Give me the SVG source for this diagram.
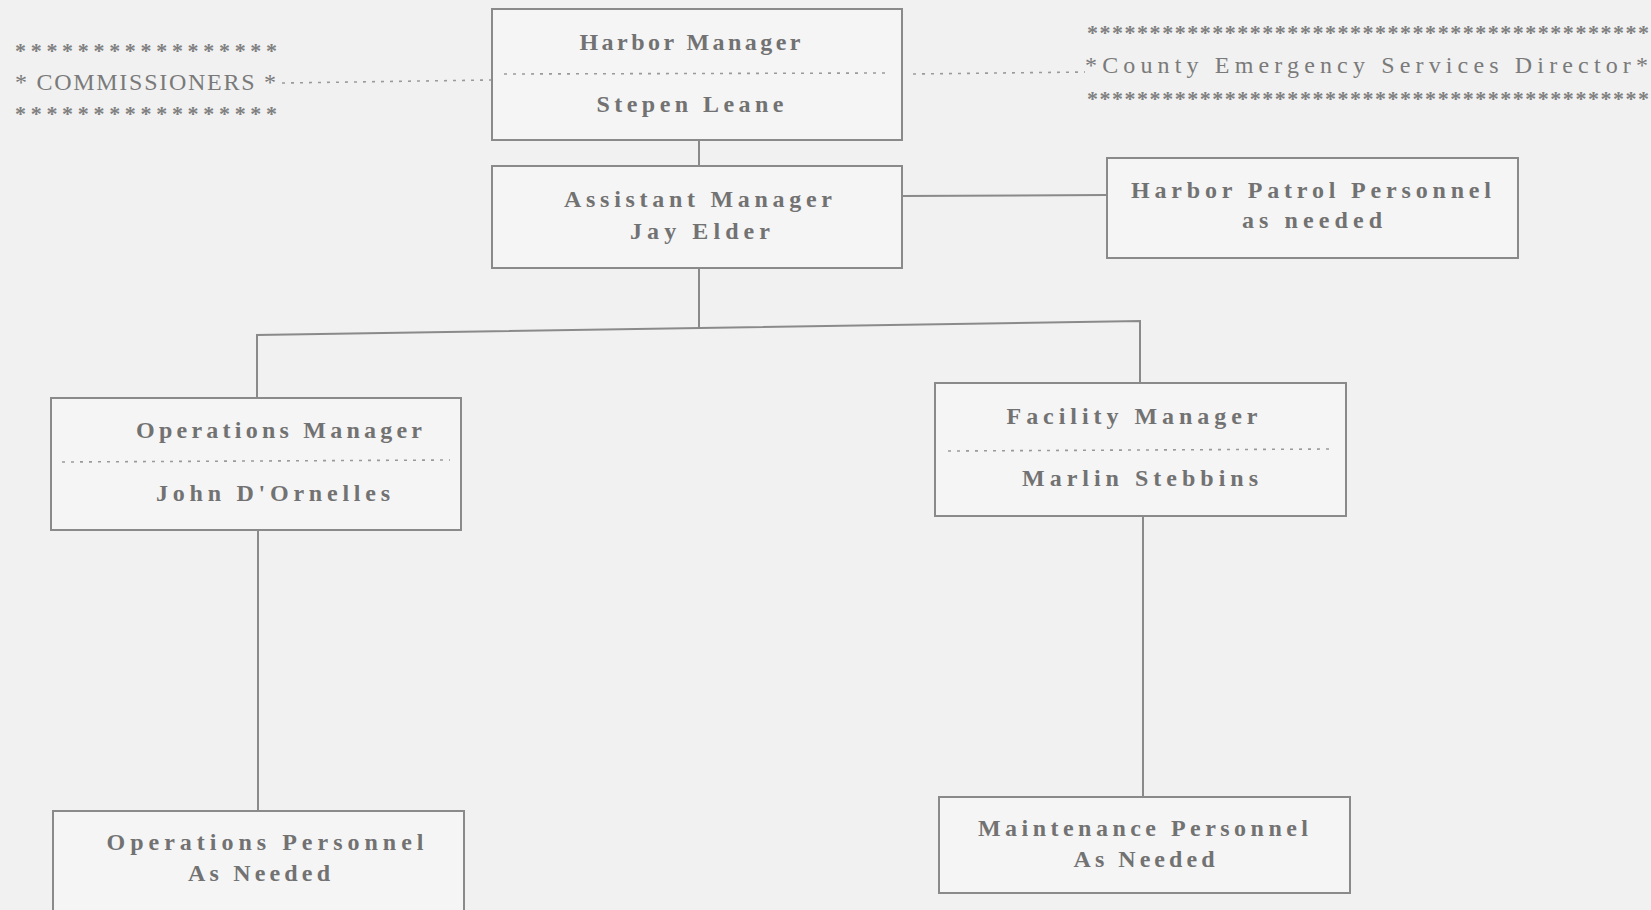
<svg xmlns="http://www.w3.org/2000/svg" width="1651" height="910" viewBox="0 0 1651 910">
<style>
.bg{fill:#f1f1f1}
.box{fill:#f5f5f5;stroke:#8a8a8a;stroke-width:2}
.ln{fill:none;stroke:#8a8a8a;stroke-width:2}
.dot{fill:none;stroke:#9a9a9a;stroke-width:1.6;stroke-dasharray:3 6}
.t{font-family:"Liberation Serif","DejaVu Serif",serif;font-size:24px;fill:#727272;text-anchor:middle;font-weight:bold}
.s{font-family:"Liberation Serif","DejaVu Serif",serif;font-size:22px;fill:#808080;font-weight:bold}
.n{font-family:"Liberation Serif","DejaVu Serif",serif;font-size:24px;fill:#7a7a7a}
</style>
<rect class="bg" x="0" y="0" width="1651" height="910"/>
<g id="connectors">
<line class="ln" x1="699" y1="140" x2="699" y2="166"/>
<line class="ln" x1="902" y1="196" x2="1107" y2="195"/>
<line class="ln" x1="699" y1="268" x2="699" y2="328"/>
<polyline class="ln" points="257,398 257,335 1140,321 1140,383"/>
<line class="ln" x1="258" y1="530" x2="258" y2="811"/>
<line class="ln" x1="1143" y1="516" x2="1143" y2="797"/>
<line class="dot" x1="282" y1="83" x2="492" y2="80"/>
<line class="dot" x1="913" y1="74" x2="1085" y2="72"/>
</g>
<g id="commissioners">
<text class="s" x="15" y="58" textLength="262" lengthAdjust="spacing">*****************</text>
<text class="n" x="15" y="90" textLength="261" lengthAdjust="spacing">* COMMISSIONERS *</text>
<text class="s" x="15" y="121" textLength="262" lengthAdjust="spacing">*****************</text>
</g>
<g id="county-director">
<text class="s" x="1087" y="40" textLength="562" lengthAdjust="spacing">*********************************************</text>
<text class="n" x="1085" y="73" textLength="563" lengthAdjust="spacing">*County Emergency Services Director*</text>
<text class="s" x="1087" y="106" textLength="562" lengthAdjust="spacing">*********************************************</text>
</g>
<g id="harbor-manager">
<rect class="box" x="492" y="9" width="410" height="131"/>
<line class="dot" x1="504" y1="74" x2="890" y2="73"/>
<text class="t" x="690" y="50" textLength="221" lengthAdjust="spacing">Harbor Manager</text>
<text class="t" x="690" y="112" textLength="187" lengthAdjust="spacing">Stepen Leane</text>
</g>
<g id="assistant-manager">
<rect class="box" x="492" y="166" width="410" height="102"/>
<text class="t" x="698" y="207" textLength="268" lengthAdjust="spacing">Assistant Manager</text>
<text class="t" x="700" y="239" textLength="140" lengthAdjust="spacing">Jay Elder</text>
</g>
<g id="harbor-patrol">
<rect class="box" x="1107" y="158" width="411" height="100"/>
<text class="t" x="1311" y="198" textLength="360" lengthAdjust="spacing">Harbor Patrol Personnel</text>
<text class="t" x="1312" y="228" textLength="140" lengthAdjust="spacing">as needed</text>
</g>
<g id="operations-manager">
<rect class="box" x="51" y="398" width="410" height="132"/>
<line class="dot" x1="62" y1="462" x2="450" y2="460"/>
<text class="t" x="279" y="438" textLength="286" lengthAdjust="spacing">Operations Manager</text>
<text class="t" x="273" y="501" textLength="234" lengthAdjust="spacing">John D'Ornelles</text>
</g>
<g id="facility-manager">
<rect class="box" x="935" y="383" width="411" height="133"/>
<line class="dot" x1="948" y1="451" x2="1334" y2="449"/>
<text class="t" x="1132" y="424" textLength="251" lengthAdjust="spacing">Facility Manager</text>
<text class="t" x="1140" y="486" textLength="236" lengthAdjust="spacing">Marlin Stebbins</text>
</g>
<g id="operations-personnel">
<rect class="box" x="53" y="811" width="411" height="100"/>
<text class="t" x="265" y="850" textLength="317" lengthAdjust="spacing">Operations Personnel</text>
<text class="t" x="259" y="881" textLength="142" lengthAdjust="spacing">As Needed</text>
</g>
<g id="maintenance-personnel">
<rect class="box" x="939" y="797" width="411" height="96"/>
<text class="t" x="1143" y="836" textLength="330" lengthAdjust="spacing">Maintenance Personnel</text>
<text class="t" x="1144" y="867" textLength="141" lengthAdjust="spacing">As Needed</text>
</g>
</svg>
